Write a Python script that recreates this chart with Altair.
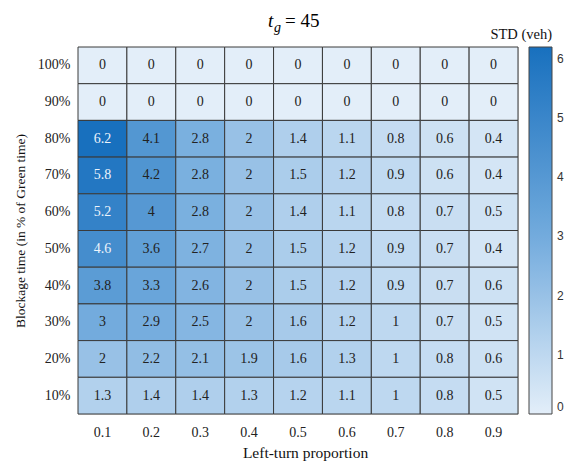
import altair as alt
import pandas as pd

proportions = ["0.1", "0.2", "0.3", "0.4", "0.5", "0.6", "0.7", "0.8", "0.9"]
blockage = ["100%", "90%", "80%", "70%", "60%", "50%", "40%", "30%", "20%", "10%"]
row_100 = [0, 0, 0, 0, 0, 0, 0, 0, 0]
row_90 = [0, 0, 0, 0, 0, 0, 0, 0, 0]
row_80 = [6.2, 4.1, 2.8, 2, 1.4, 1.1, 0.8, 0.6, 0.4]
row_70 = [5.8, 4.2, 2.8, 2, 1.5, 1.2, 0.9, 0.6, 0.4]
row_60 = [5.2, 4, 2.8, 2, 1.4, 1.1, 0.8, 0.7, 0.5]
row_50 = [4.6, 3.6, 2.7, 2, 1.5, 1.2, 0.9, 0.7, 0.4]
row_40 = [3.8, 3.3, 2.6, 2, 1.5, 1.2, 0.9, 0.7, 0.6]
row_30 = [3, 2.9, 2.5, 2, 1.6, 1.2, 1, 0.7, 0.5]
row_20 = [2, 2.2, 2.1, 1.9, 1.6, 1.3, 1, 0.8, 0.6]
row_10 = [1.3, 1.4, 1.4, 1.3, 1.2, 1.1, 1, 0.8, 0.5]
rows = [row_100, row_90, row_80, row_70, row_60, row_50, row_40, row_30, row_20, row_10]
legend_ticks = [0, 1, 2, 3, 4, 5, 6]

records = []
for b, r in zip(blockage, rows):
    for p, v in zip(proportions, r):
        records.append({"prop": p, "block": b, "std": v, "label": f"{v:g}"})
df = pd.DataFrame(records)

serif = "Liberation Serif"
W, H = 440, 367

x_enc = alt.X("prop:O", sort=proportions, title="Left-turn proportion",
              scale=alt.Scale(paddingInner=0, paddingOuter=0),
              axis=alt.Axis(labelAngle=0, ticks=False, domain=False, labelPadding=11,
                            titlePadding=6, titleX=227, labelFont=serif, labelFontSize=14,
                            titleFont=serif, titleFontSize=15.5, titleFontWeight="normal",
                            labelColor="#222", titleColor="#111"))
y_enc = alt.Y("block:O", sort=blockage, title="Blockage time (in % of Green time)",
              scale=alt.Scale(paddingInner=0, paddingOuter=0),
              axis=alt.Axis(ticks=False, domain=False, labelPadding=8, titlePadding=10,
                            labelFont=serif, labelFontSize=14, titleFont=serif,
                            titleFontSize=13.5, titleFontWeight="normal",
                            labelColor="#222", titleColor="#111"))

rects = alt.Chart(df).mark_rect(stroke="#3a3a3a", strokeWidth=1).encode(
    x=x_enc, y=y_enc,
    color=alt.Color("std:Q",
                    scale=alt.Scale(domain=[0, 3.1, 6.2],
                                    range=["#e3eef9", "#6fa9dc", "#1870be"],
                                    interpolate="rgb", nice=False),
                    legend=alt.Legend(title=None, values=legend_ticks,
                                      gradientLength=H, gradientThickness=23,
                                      gradientStrokeColor="#444", gradientStrokeWidth=1,
                                      labelFont="Liberation Sans", labelFontSize=12,
                                      labelColor="#333", labelOffset=5, offset=11,
                                      tickCount=7)),
)

texts = alt.Chart(df).mark_text(font=serif, fontSize=14).encode(
    x=alt.X("prop:O", sort=proportions),
    y=alt.Y("block:O", sort=blockage),
    text="label:N",
    color=alt.condition(alt.datum.std > 4.5, alt.value("#eef4fb"), alt.value("#222")),
)

title_df = pd.DataFrame({"t": ["t"], "g": ["g"], "eq": ["= 45"], "unit": ["STD (veh)"]})
t_mark = alt.Chart(title_df).mark_text(font=serif, fontSize=19, fontStyle="italic",
                                       align="left", baseline="alphabetic").encode(
    x=alt.value(190), y=alt.value(-20), text="t:N")
g_mark = alt.Chart(title_df).mark_text(font=serif, fontSize=14, fontStyle="italic",
                                       align="left", baseline="alphabetic").encode(
    x=alt.value(196), y=alt.value(-15), text="g:N")
eq_mark = alt.Chart(title_df).mark_text(font=serif, fontSize=19,
                                        align="left", baseline="alphabetic").encode(
    x=alt.value(207), y=alt.value(-20), text="eq:N")
unit_mark = alt.Chart(title_df).mark_text(font=serif, fontSize=14.5, color="#111",
                                          align="right", baseline="alphabetic").encode(
    x=alt.value(474), y=alt.value(-8), text="unit:N")

chart = alt.layer(rects, texts, t_mark, g_mark, eq_mark, unit_mark).properties(
    width=W, height=H,
    autosize=alt.AutoSizeParams(type="none"),
    padding={"left": 70, "top": 39, "right": 47, "bottom": 47},
).configure_view(stroke=None).configure(background="white")

chart.save("out.html", embed_options={"renderer": "svg", "actions": False})
